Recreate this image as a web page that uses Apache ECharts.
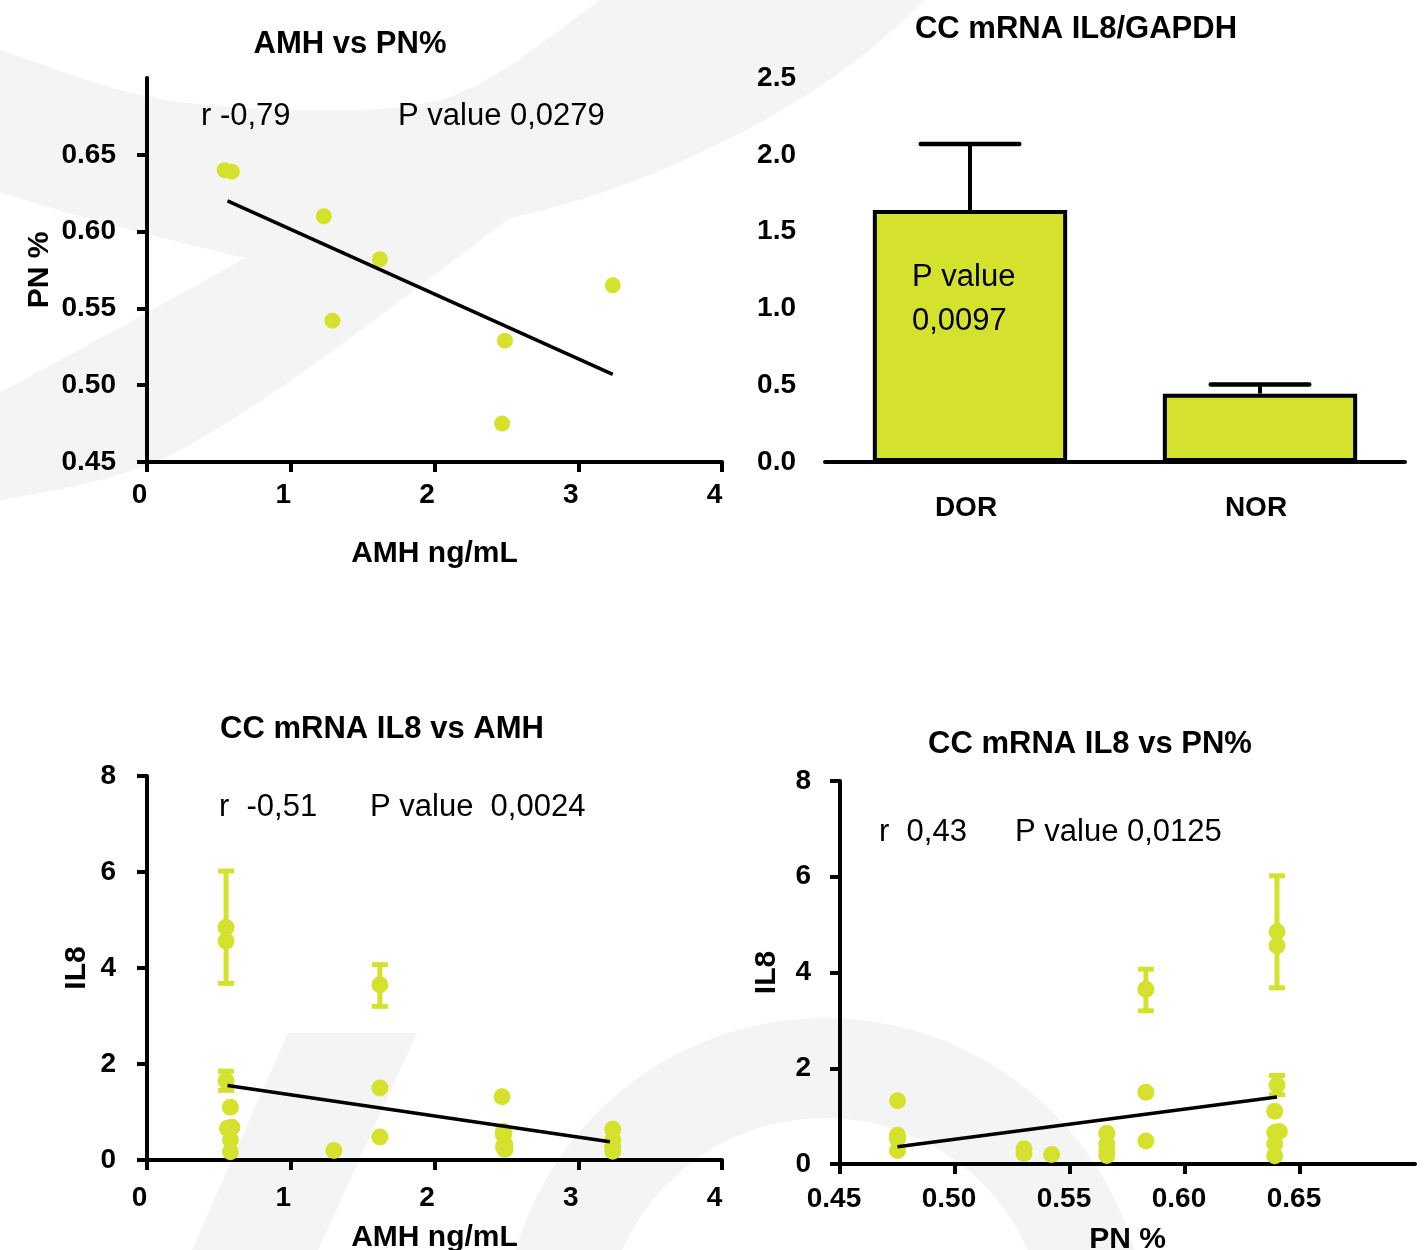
<!DOCTYPE html>
<html>
<head>
<meta charset="utf-8">
<title>AMH, PN% and CC mRNA IL8</title>
<script src="https://cdn.jsdelivr.net/npm/echarts@6.0.0/dist/echarts.min.js"></script>
<style>
  html, body { margin: 0; padding: 0; background: #fff; }
  #main { width: 1428px; height: 1250px; }
</style>
</head>
<body>
<div id="main"></div>
<script>
const FONT = '"Liberation Sans", Arial, Helvetica, sans-serif';
const LIME = '#d4e22e';
const INK = '#000';

// AMH vs PN% - one point per patient
const amhPatients = [0.54, 0.59, 1.23, 1.29, 1.62, 2.47, 2.49, 3.24];
const pnPatients = [0.640, 0.639, 0.610, 0.542, 0.582, 0.475, 0.529, 0.565];
const amhPnFitX = [0.56, 3.24];
const amhPnFitY = [0.620, 0.507];

// CC mRNA IL8/GAPDH by group (mean + upper error)
const groups = ['DOR', 'NOR'];
const il8Mean = [1.64, 0.445];
const il8Upper = [2.07, 0.505];

// CC mRNA IL8 per sample (same samples in both bottom charts)
const sampleAmh = [0.55, 0.55, 0.55, 0.58, 0.56, 0.59, 0.58, 0.58,
                   1.62, 1.62, 1.62, 1.30,
                   2.47, 2.48, 2.48, 2.48, 2.49, 2.49,
                   3.24, 3.24, 3.24, 3.24];
const samplePn = [0.640, 0.640, 0.640, 0.639, 0.639, 0.641, 0.639, 0.639,
                  0.583, 0.583, 0.583, 0.542,
                  0.475, 0.475, 0.475, 0.475, 0.530, 0.530,
                  0.566, 0.566, 0.566, 0.566];
const sampleIl8 = [4.85, 4.56, 1.65, 1.10, 0.66, 0.68, 0.42, 0.17,
                   3.65, 1.50, 0.48, 0.20,
                   1.32, 0.60, 0.52, 0.28, 0.32, 0.22,
                   0.64, 0.42, 0.28, 0.18];
const errAmh = [0.55, 0.55, 1.62];
const errPn = [0.640, 0.640, 0.583];
const errLow = [3.68, 1.45, 3.20];
const errHigh = [6.02, 1.85, 4.07];
const il8AmhFitX = [0.56, 3.22];
const il8AmhFitY = [1.55, 0.38];
const il8PnFitX = [0.475, 0.640];
const il8PnFitY = [0.36, 1.40];

// tick labels
const pnTicks = [0.45, 0.50, 0.55, 0.60, 0.65];

// faint logo watermark in the background
const markTop = 'M0 50 C60 70 120 95 180 102 C260 112 380 116 440 100 C490 85 540 45 600 0 L925 0 ' +
  'C870 55 800 105 720 143 C650 178 580 203 510 218 C400 300 250 420 150 465 C100 482 50 492 0 500 L0 392 ' +
  'C80 350 170 300 245 258 C160 238 80 218 0 192 Z';
const markBand = 'M288 1033 L417 1033 L318 1250 L192 1250 Z';

function pathToPoints(d) {
  const tok = d.match(/[MLCZ]|-?\d+(\.\d+)?/g);
  const pts = [];
  let cur = [0, 0];
  let i = 0;
  while (i < tok.length) {
    const c = tok[i++];
    if (c === 'M' || c === 'L') {
      cur = [+tok[i++], +tok[i++]];
      pts.push(cur);
    } else if (c === 'C') {
      const p1 = [+tok[i++], +tok[i++]];
      const p2 = [+tok[i++], +tok[i++]];
      const p3 = [+tok[i++], +tok[i++]];
      for (let k = 1; k <= 16; k++) {
        const t = k / 16, u = 1 - t;
        pts.push([
          u * u * u * cur[0] + 3 * u * u * t * p1[0] + 3 * u * t * t * p2[0] + t * t * t * p3[0],
          u * u * u * cur[1] + 3 * u * u * t * p1[1] + 3 * u * t * t * p2[1] + t * t * t * p3[1]
        ]);
      }
      cur = p3;
    }
  }
  return pts;
}

const zip = (xs, ys) => xs.map((x, i) => [x, ys[i]]);

const line = { onZero: false, lineStyle: { color: INK, width: 4 } };
const tick = { length: 10, lineStyle: { color: INK, width: 4 } };
const label = { color: INK, fontFamily: FONT, fontWeight: 'bold', fontSize: 28 };
const nameStyle = { color: INK, fontFamily: FONT, fontWeight: 'bold', fontSize: 30 };
const noSplit = { show: false };

function text(str, x, y, bold, align) {
  return {
    type: 'text', x: x, y: y, z: 20, silent: true,
    style: {
      text: str, fill: INK,
      font: (bold ? 'bold ' : '') + '31px ' + FONT,
      align: align || 'left', verticalAlign: 'middle',
      textAlign: align || 'left', textVerticalAlign: 'middle'
    }
  };
}

function scatterErrors(params, api) {
  const x = api.value(0);
  const lo = api.coord([x, api.value(1)]);
  const hi = api.coord([x, api.value(2)]);
  const w = 8;
  const st = { stroke: LIME, lineWidth: 5 };
  return {
    type: 'group',
    children: [
      { type: 'line', shape: { x1: lo[0], y1: lo[1], x2: hi[0], y2: hi[1] }, style: st },
      { type: 'line', shape: { x1: lo[0] - w, y1: lo[1], x2: lo[0] + w, y2: lo[1] }, style: st },
      { type: 'line', shape: { x1: hi[0] - w, y1: hi[1], x2: hi[0] + w, y2: hi[1] }, style: st }
    ]
  };
}

function barErrors(params, api) {
  const idx = api.value(0);
  const top = api.coord([idx, api.value(1)]);
  const base = api.coord([idx, api.value(2)]);
  const half = api.size([1, 0])[0] * 0.17;
  return {
    type: 'group',
    children: [
      { type: 'line', shape: { x1: top[0], y1: top[1], x2: base[0], y2: base[1] },
        style: { stroke: INK, lineWidth: 4 } },
      { type: 'line', shape: { x1: top[0] - half, y1: top[1], x2: top[0] + half, y2: top[1] },
        style: { stroke: INK, lineWidth: 4.5, lineCap: 'round' } }
    ]
  };
}

const chart = echarts.init(document.getElementById('main'), null, { renderer: 'canvas' });

chart.setOption({
  backgroundColor: '#fff',
  animation: false,
  graphic: [
    { type: 'polygon', z: -10, silent: true, shape: { points: pathToPoints(markTop) }, style: { fill: '#f3f4f3' } },
    { type: 'polygon', z: -10, silent: true, shape: { points: pathToPoints(markBand) }, style: { fill: '#f3f4f3' } },
    { type: 'ring', z: -10, silent: true, shape: { cx: 825, cy: 1340, r: 322, r0: 222 }, style: { fill: '#f3f4f3' } },

    text('AMH vs PN%', 350, 44, true, 'center'),
    text('CC mRNA IL8/GAPDH', 1076, 29, true, 'center'),
    text('CC mRNA IL8 vs AMH', 382, 729, true, 'center'),
    text('CC mRNA IL8 vs PN%', 1090, 744, true, 'center'),

    text('r -0,79', 201, 116),
    text('P value 0,0279', 398, 116),
    text('P value', 912, 277),
    text('0,0097', 912, 321),
    text('r  -0,51', 219, 807),
    text('P value  0,0024', 370, 807),
    text('r  0,43', 879, 832),
    text('P value 0,0125', 1015, 832)
  ],
  grid: [
    { left: 147, top: 78, width: 575, height: 384, outerBoundsMode: 'none' },
    { left: 825, top: 78, width: 580, height: 384, outerBoundsMode: 'none' },
    { left: 147, top: 776, width: 575, height: 384, outerBoundsMode: 'none' },
    { left: 840, top: 781, width: 575, height: 383, outerBoundsMode: 'none' }
  ],
  xAxis: [
    {
      gridIndex: 0, type: 'value', min: 0, max: 4, interval: 1,
      axisLine: line, axisTick: tick, splitLine: noSplit,
      axisLabel: { ...label, margin: 19, padding: [0, 15, 0, 0] },
      name: 'AMH ng/mL', nameLocation: 'middle', nameGap: 77, nameTextStyle: nameStyle
    },
    {
      gridIndex: 1, type: 'category', data: groups,
      axisLine: line, axisTick: { ...tick, alignWithLabel: true }, splitLine: noSplit,
      axisLabel: { ...label, margin: 32, padding: [0, 8, 0, 0] }
    },
    {
      gridIndex: 2, type: 'value', min: 0, max: 4, interval: 1,
      axisLine: line, axisTick: tick, splitLine: noSplit,
      axisLabel: { ...label, margin: 24, padding: [0, 15, 0, 0] },
      name: 'AMH ng/mL', nameLocation: 'middle', nameGap: 63, nameTextStyle: nameStyle
    },
    {
      gridIndex: 3, type: 'value', min: 0.45, max: 0.70, interval: 0.05,
      axisLine: line, axisTick: { ...tick, customValues: pnTicks }, splitLine: noSplit,
      axisLabel: { ...label, margin: 21, padding: [0, 12, 0, 0], customValues: pnTicks, formatter: v => v.toFixed(2) },
      name: 'PN %', nameLocation: 'middle', nameGap: 61, nameTextStyle: nameStyle
    }
  ],
  yAxis: [
    {
      gridIndex: 0, type: 'value', min: 0.45, max: 0.70, interval: 0.05,
      axisLine: line, axisTick: { ...tick, customValues: pnTicks }, splitLine: noSplit,
      axisLabel: { ...label, margin: 31, customValues: pnTicks, formatter: v => v.toFixed(2) },
      name: 'PN %', nameLocation: 'middle', nameGap: 92, nameTextStyle: nameStyle
    },
    {
      gridIndex: 1, type: 'value', min: 0, max: 2.5, interval: 0.5,
      axisLine: line, axisTick: tick, splitLine: noSplit,
      axisLabel: { ...label, margin: 29, formatter: v => v.toFixed(1) }
    },
    {
      gridIndex: 2, type: 'value', min: 0, max: 8, interval: 2,
      axisLine: line, axisTick: tick, splitLine: noSplit,
      axisLabel: { ...label, margin: 31 },
      name: 'IL8', nameLocation: 'middle', nameGap: 55, nameTextStyle: nameStyle
    },
    {
      gridIndex: 3, type: 'value', min: 0, max: 8, interval: 2,
      axisLine: line, axisTick: tick, splitLine: noSplit,
      axisLabel: { ...label, margin: 29 },
      name: 'IL8', nameLocation: 'middle', nameGap: 58, nameTextStyle: nameStyle
    }
  ],
  series: [
    // AMH vs PN%
    {
      type: 'scatter', xAxisIndex: 0, yAxisIndex: 0, silent: true,
      data: zip(amhPatients, pnPatients),
      symbolSize: 16, itemStyle: { color: LIME, opacity: 1 }, z: 3
    },
    {
      type: 'line', xAxisIndex: 0, yAxisIndex: 0, silent: true,
      data: zip(amhPnFitX, amhPnFitY), symbol: 'none',
      lineStyle: { color: INK, width: 3.5 }, z: 4
    },

    // IL8/GAPDH bars
    {
      type: 'bar', xAxisIndex: 1, yAxisIndex: 1, silent: true,
      data: il8Mean, barWidth: '67%',
      itemStyle: { color: LIME, borderColor: INK, borderWidth: 4 }, z: 2
    },
    {
      type: 'custom', xAxisIndex: 1, yAxisIndex: 1, silent: true,
      data: groups.map((g, i) => [i, il8Upper[i], il8Mean[i]]),
      renderItem: barErrors, z: 3
    },

    // IL8 vs AMH
    {
      type: 'custom', xAxisIndex: 2, yAxisIndex: 2, silent: true,
      data: errAmh.map((x, i) => [x, errLow[i], errHigh[i]]),
      renderItem: scatterErrors, z: 2
    },
    {
      type: 'scatter', xAxisIndex: 2, yAxisIndex: 2, silent: true,
      data: zip(sampleAmh, sampleIl8),
      symbolSize: 17, itemStyle: { color: LIME, opacity: 1 }, z: 3
    },
    {
      type: 'line', xAxisIndex: 2, yAxisIndex: 2, silent: true,
      data: zip(il8AmhFitX, il8AmhFitY), symbol: 'none',
      lineStyle: { color: INK, width: 3.5 }, z: 4
    },

    // IL8 vs PN%
    {
      type: 'custom', xAxisIndex: 3, yAxisIndex: 3, silent: true,
      data: errPn.map((x, i) => [x, errLow[i], errHigh[i]]),
      renderItem: scatterErrors, z: 2
    },
    {
      type: 'scatter', xAxisIndex: 3, yAxisIndex: 3, silent: true,
      data: zip(samplePn, sampleIl8),
      symbolSize: 17, itemStyle: { color: LIME, opacity: 1 }, z: 3
    },
    {
      type: 'line', xAxisIndex: 3, yAxisIndex: 3, silent: true,
      data: zip(il8PnFitX, il8PnFitY), symbol: 'none',
      lineStyle: { color: INK, width: 3.5 }, z: 4
    }
  ]
});
</script>
</body>
</html>
